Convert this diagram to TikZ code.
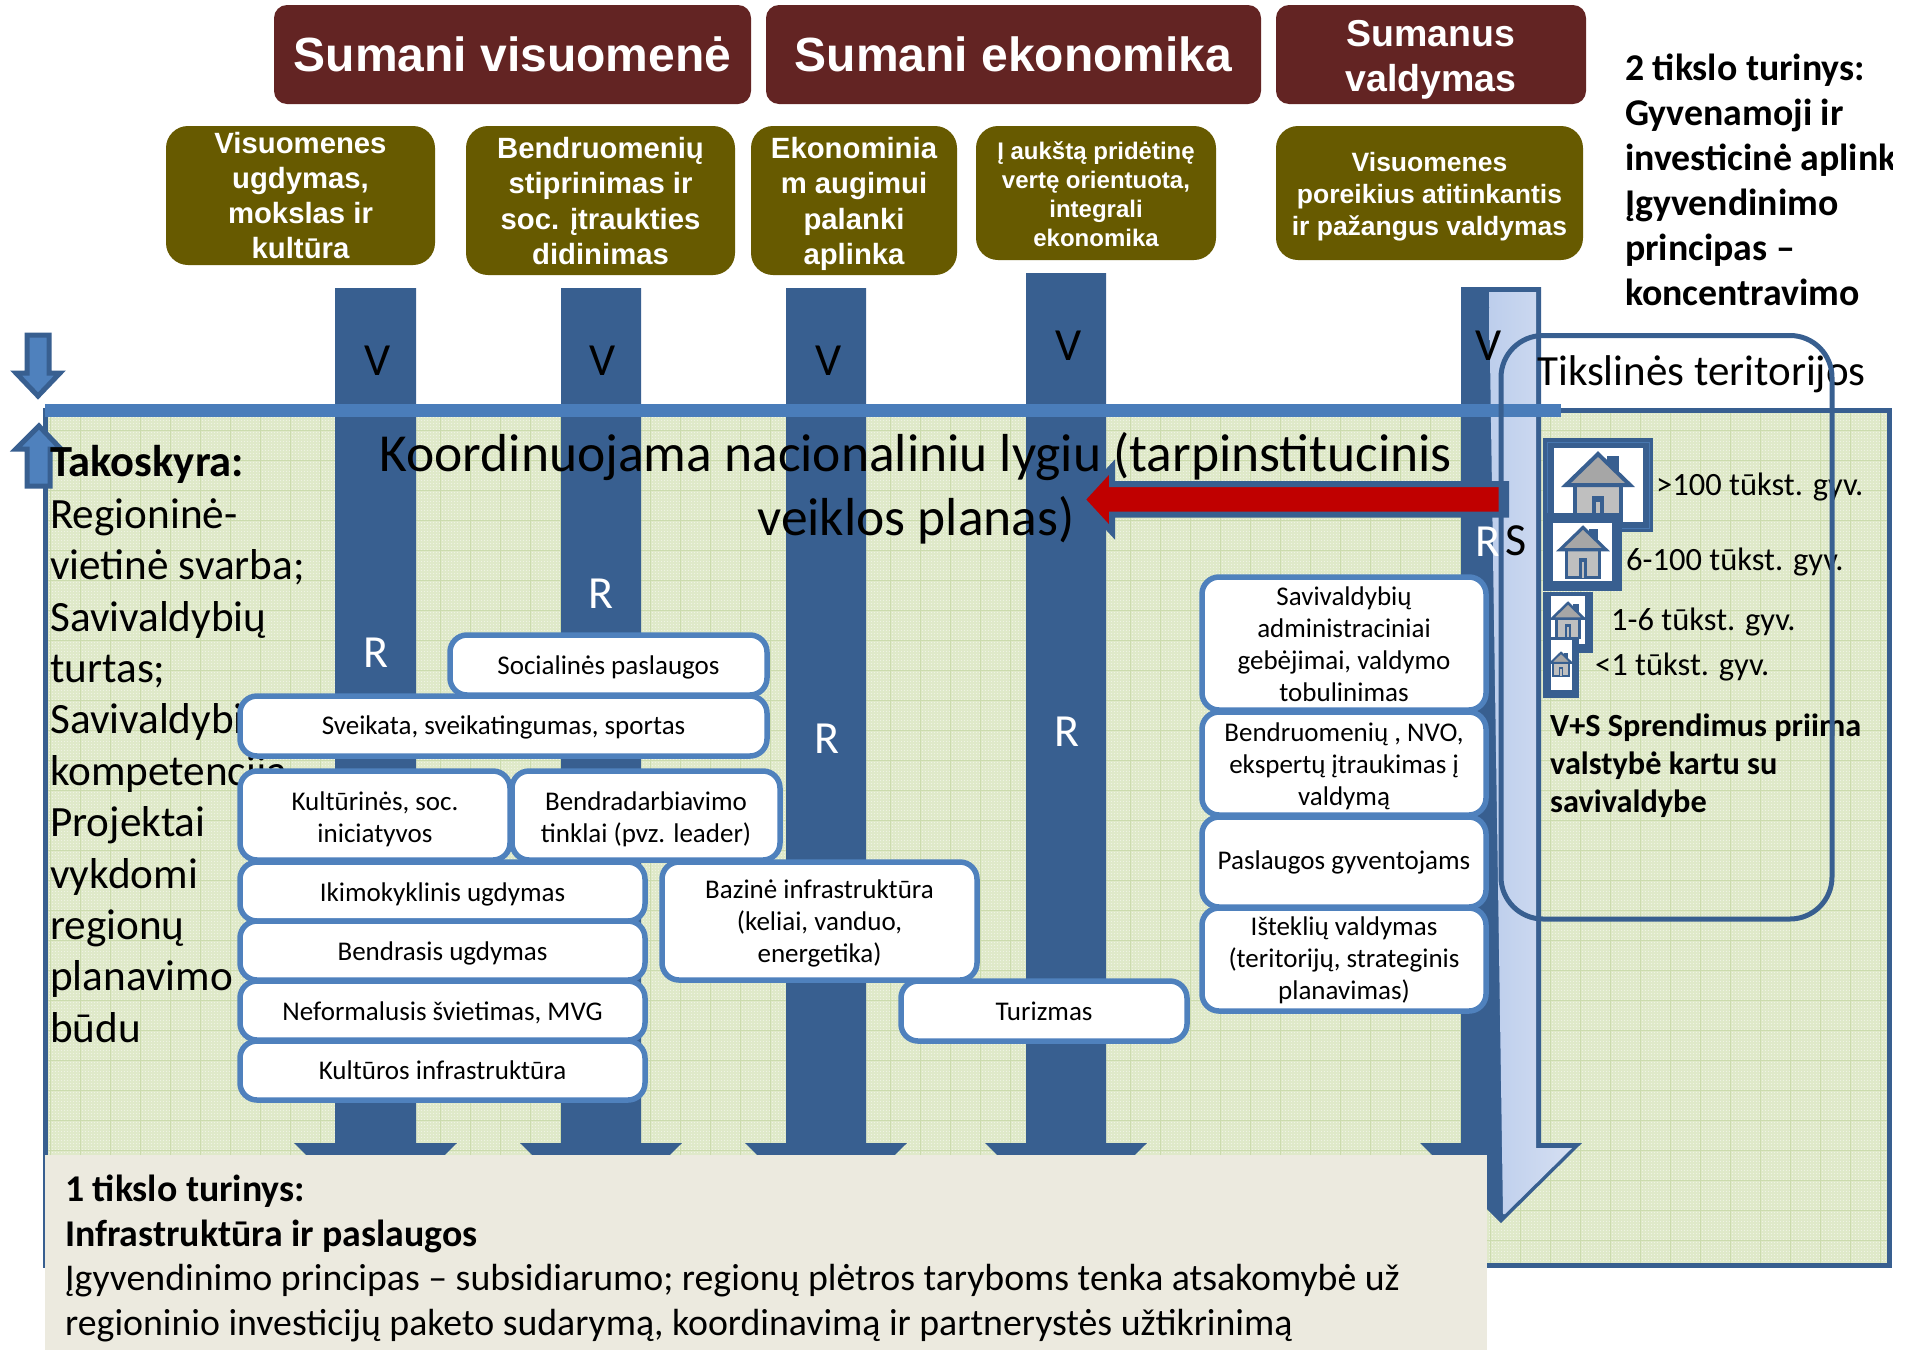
\documentclass[tikz,border=0pt]{standalone}
\usepackage{fontspec}
\setmainfont{Carlito}
\newfontfamily\arialf{Liberation Sans}
\definecolor{titlec}{HTML}{632423}
\definecolor{olivec}{HTML}{675A00}
\definecolor{colc}{HTML}{385F90}
\definecolor{barc}{HTML}{4A7DBA}
\definecolor{boxc}{HTML}{4F81BD}
\definecolor{gbase}{HTML}{EFF3E4}
\definecolor{gfine}{HTML}{DFE9C9}
\definecolor{gcoarse}{HTML}{CBDBAD}
\definecolor{bottomc}{HTML}{ECEADF}
\definecolor{lightl}{HTML}{BDCEEC}
\definecolor{lightr}{HTML}{D5DFF2}
\definecolor{redc}{HTML}{C00000}
\definecolor{roofc}{HTML}{A6A6A6}
\definecolor{bodyc}{HTML}{BFBFBF}
\newcommand{\fs}[2]{\fontsize{#1}{#2}\selectfont}
% \hb{name}{x1}{y1}{x2}{y2}{style}{text drop}{text font}{text}
\newcommand{\hb}[9]{\node[#6,minimum width={(#4-#2)*1pt},minimum height={(#5-#3)*1pt}] (#1) at ({(#2+#4)/2},{(#3+#5)/2}) {};
\node[inner sep=0pt,text=white,align=center,font=\arialf\bfseries#8] (#1-t) at ({(#2+#4)/2},{(#3+#5)/2+#7}) {#9};}
% \wb{name}{x1}{y1}{x2}{y2}{text drop}{text}
\newcommand{\wb}[7]{\node[whitebox,minimum width={(#4-#2)*1pt},minimum height={(#5-#3)*1pt}] (#1) at ({(#2+#4)/2},{(#3+#5)/2}) {};
\node[whitetext] (#1-t) at ({(#2+#4)/2},{(#3+#5)/2+#6}) {#7};}
% \colarrow{x1}{x2}{top}
\newcommand{\colarrow}[3]{\fill[colc] (#1,#3) -- (#2,#3) -- (#2,1143) -- ({#2+41},1143) -- ({(#1+#2)/2},1223) -- ({#1-41},1143) -- (#1,1143) -- cycle;}
% \housepic{cx}{apex y}{scale}
\newcommand{\housepic}[3]{\begin{scope}[shift={(#1,#2)},scale=#3,line width={(1+3*#3)*1pt},draw=colc,line join=miter]
\fill[colc] (9,4) rectangle (21,24);
\fill[bodyc,draw=colc] (-23,33) rectangle (23,72);
\fill[roofc,draw=colc] (0,2) -- (32,33) -- (-32,33) -- cycle;
\fill[colc] (-6,44) rectangle (6,72);
\fill[bodyc] (-2,50) rectangle (2,72);
\end{scope}}
\tikzset{
 titlebox/.style={fill=titlec,rounded corners=13pt,inner sep=0pt},
 olivebox/.style={fill=olivec,rounded corners=22pt,inner sep=0pt},
 whitebox/.style={draw=boxc,line width=5.5pt,fill=white,rounded corners=17pt,inner sep=0pt},
 whitetext/.style={inner sep=0pt,align=center,font=\fs{27}{32}},
 collabel/.style={font=\fs{46}{50},inner sep=0pt,anchor=base},
 ptext/.style={inner sep=0pt,anchor=base west},
 btext/.style={inner sep=0pt,anchor=north west,align=left},
}
\begin{document}
\begin{tikzpicture}[x=1pt,y=-1pt]
\useasboundingbox (0,0) rectangle (1912,1350);
\fill[white] (0,0) rectangle (1912,1350);
% green panel
\fill[gbase] (45,410) rectangle (1890,1266);
\begin{scope}
\clip (45,410) rectangle (1890,1266);
\foreach \i in {0,...,615} {\draw[gfine,line width=1.3pt] ({45+3*\i},410) -- ({45+3*\i},1266);}
\foreach \i in {0,...,286} {\draw[gfine,line width=1.3pt] (45,{410+3*\i}) -- (1890,{410+3*\i});}
\foreach \i in {0,...,61} {\draw[gcoarse,line width=1pt] ({50+30*\i},410) -- ({50+30*\i},1266);}
\foreach \i in {0,...,28} {\draw[gcoarse,line width=1pt] (45,{430+30*\i}) -- (1890,{430+30*\i});}
\end{scope}
\draw[colc,line width=5pt] (45.5,410.5) rectangle (1889.5,1265.5);
% columns
\colarrow{335}{416}{288}
\colarrow{561}{641}{288}
\colarrow{786}{866}{288}
\colarrow{1026}{1106}{273}
\colarrow{1461}{1541}{287}
\shade[left color=lightl,right color=lightr] (1489,292) -- (1536,292) -- (1536,1148) -- (1572,1148) -- (1505,1214) -- (1503,1214) -- cycle;
% horizontal bar
\fill[barc] (45,404) rectangle (1561,417);
% small arrows
\draw[colc,fill=boxc,line width=5pt] (27,335) -- (49,335) -- (49,373) -- (60,373) -- (38,396) -- (16,373) -- (27,373) -- cycle;
\draw[colc,fill=boxc,line width=5pt] (39,426) -- (61,449) -- (50,449) -- (50,486) -- (27,486) -- (27,449) -- (16,449) -- cycle;
% column letters
\node[collabel] (v1) at (378,375) {V};
\node[collabel] (v2) at (603,375) {V};
\node[collabel] (v3) at (829,375) {V};
\node[collabel] (v4) at (1069,360) {V};
\node[collabel] (v5) at (1489,360) {V};
\node[collabel,text=white] (r1) at (376,667) {R};
\node[collabel,text=white] (r2) at (601,608) {R};
\node[collabel,text=white] (r3) at (827,753) {R};
\node[collabel,text=white] (r4) at (1067,746) {R};
\node[collabel,text=white] (r5) at (1488,556) {R};
\node[collabel] (s5) at (1516,555) {S};
% coordination text
\node[inner sep=0pt,align=center,font=\fs{53.5}{64.5},anchor=north] (koord) at (916,432) {Koordinuojama nacionaliniu lygiu (tarpinstitucinis\\veiklos planas)};
% red arrow
\draw[colc,fill=redc,line width=6pt,miter limit=10] (1506,484) -- (1506,514.5) -- (1112,514.5) -- (1112,532) -- (1082,499.5) -- (1112,467) -- (1112,484) -- cycle;
% left text
\node[btext,font=\fs{43.2}{51.4}] (tak) at (50,445.5) {{\fontsize{44.5}{51.4}\selectfont\bfseries Takoskyra:}\\Regioninė-\\vietinė svarba;\\Savivaldybių\\turtas;\\Savivaldybių\\kompetencija\\Projektai\\vykdomi\\regionų\\planavimo\\būdu};
% white boxes
\wb{soc}{450}{635}{767}{695}{2}{Socialinės paslaugos}
\wb{sve}{240}{696}{767}{756}{1.5}{Sveikata, sveikatingumas, sportas}
\wb{kul}{240}{771}{510}{860}{3.5}{Kultūrinės, soc.\\iniciatyvos}
\wb{ben}{512}{771}{780}{860}{3.5}{Bendradarbiavimo\\tinklai (pvz. leader)}
\wb{iki}{240}{862}{645}{921}{2.5}{Ikimokyklinis ugdymas}
\wb{ber}{240}{921}{645}{980}{2.5}{Bendrasis ugdymas}
\wb{nef}{240}{981}{645}{1040}{2}{Neformalusis švietimas, MVG}
\wb{kin}{240}{1041}{645}{1100}{0}{Kultūros infrastruktūra}
\wb{baz}{662}{862}{977}{980}{2.5}{Bazinė infrastruktūra\\(keliai, vanduo,\\energetika)}
\wb{tur}{901}{981}{1187}{1041}{0}{Turizmas}
\wb{sav}{1202}{577}{1486}{710}{0.5}{Savivaldybių\\administraciniai\\gebėjimai, valdymo\\tobulinimas}
\wb{bnd}{1202}{712}{1486}{815}{2.5}{Bendruomenių , NVO,\\ekspertų įtraukimas į\\valdymą}
\wb{pas}{1202}{817}{1486}{907}{0}{Paslaugos gyventojams}
\wb{ist}{1202}{908}{1486}{1011}{1}{Išteklių valdymas\\(teritorijų, strateginis\\planavimas)}
% bottom box
\fill[bottomc] (45,1155) rectangle (1487,1350);
\node[btext,font=\fs{37.8}{44.5}] (bot) at (65,1175) {{\bfseries 1 tikslo turinys:}\\{\bfseries Infrastruktūra ir paslaugos}\\Įgyvendinimo principas – subsidiarumo; regionų plėtros taryboms tenka atsakomybė už\\regioninio investicijų paketo sudarymą, koordinavimą ir partnerystės užtikrinimą};
% titles
\hb{t1}{274}{5}{751}{104}{titlebox}{0}{\fs{48}{54}}{Sumani visuomenė}
\hb{t2}{766}{5}{1261}{104}{titlebox}{0}{\fs{48}{54}}{Sumani ekonomika}
\hb{t3}{1276}{5}{1586}{104}{titlebox}{5}{\fs{37.5}{45}}{Sumanus\\valdymas}
\hb{o1}{166}{126}{435}{265}{olivebox}{0}{\fs{29.3}{35.3}}{Visuomenes\\ugdymas,\\mokslas ir\\kultūra}
\hb{o2}{466}{126}{735}{275}{olivebox}{0.5}{\fs{29.3}{35.3}}{Bendruomenių\\stiprinimas ir\\soc. įtraukties\\didinimas}
\hb{o3}{751}{126}{957}{275}{olivebox}{3.5}{\fs{29.3}{35.3}}{Ekonominia\\m augimui\\palanki\\aplinka}
\hb{o4}{976}{126}{1216}{260}{olivebox}{1}{\fs{24}{28.8}}{Į aukštą pridėtinę\\vertę orientuota,\\integrali\\ekonomika}
\hb{o5}{1276}{126}{1583}{260}{olivebox}{3.5}{\fs{26.5}{32}}{Visuomenes\\poreikius atitinkantis\\ir pažangus valdymas}
% top right text
\begin{scope}
\clip (0,0) rectangle (1892,1350);
\node[btext,font=\fs{37.8}{45}\bfseries] (goal2) at (1625,54) {2 tikslo turinys:\\Gyvenamoji ir\\investicinė aplinka\\Įgyvendinimo\\principas –\\koncentravimo};
\end{scope}
% settlement icons
\fill[colc] (1543,438) rectangle (1653,532);
\draw[boxc!70!colc,line width=1pt] (1547,442) rectangle (1649,528);
\fill[white] (1554,448) rectangle (1643,522);
\housepic{1598}{452}{1}
\fill[colc] (1543,513) rectangle (1622,591);
\fill[white] (1553,523) rectangle (1612,581);
\housepic{1583}{526}{0.72}
\fill[colc] (1543,592) rectangle (1593,653);
\fill[white] (1551,596) rectangle (1585,644);
\housepic{1568}{602}{0.5}
\fill[colc] (1543,637) rectangle (1579,698);
\fill[white] (1551,640) rectangle (1572,690);
\housepic{1561}{652}{0.33}
\node[ptext,font=\fs{32.5}{36}] (p1) at (1656,495) {>100 tūkst. gyv.};
\node[ptext,font=\fs{32.5}{36}] (p2) at (1626,570) {6-100 tūkst. gyv.};
\node[ptext,font=\fs{32.5}{36}] (p3) at (1611,630) {1-6 tūkst. gyv.};
\node[ptext,font=\fs{32.5}{36}] (p4) at (1595,675) {<1 tūkst. gyv.};
\node[btext,font=\fs{32.3}{38}\bfseries] (vs) at (1550,714) {V+S Sprendimus priima\\valstybė kartu su\\savivaldybe};
\node[ptext,font=\fs{43}{48}] (tik) at (1537,385) {Tikslinės teritorijos};
\draw[colc,line width=5pt,rounded corners=42pt] (1501,335.5) rectangle (1832,919);
\end{tikzpicture}
\end{document}
